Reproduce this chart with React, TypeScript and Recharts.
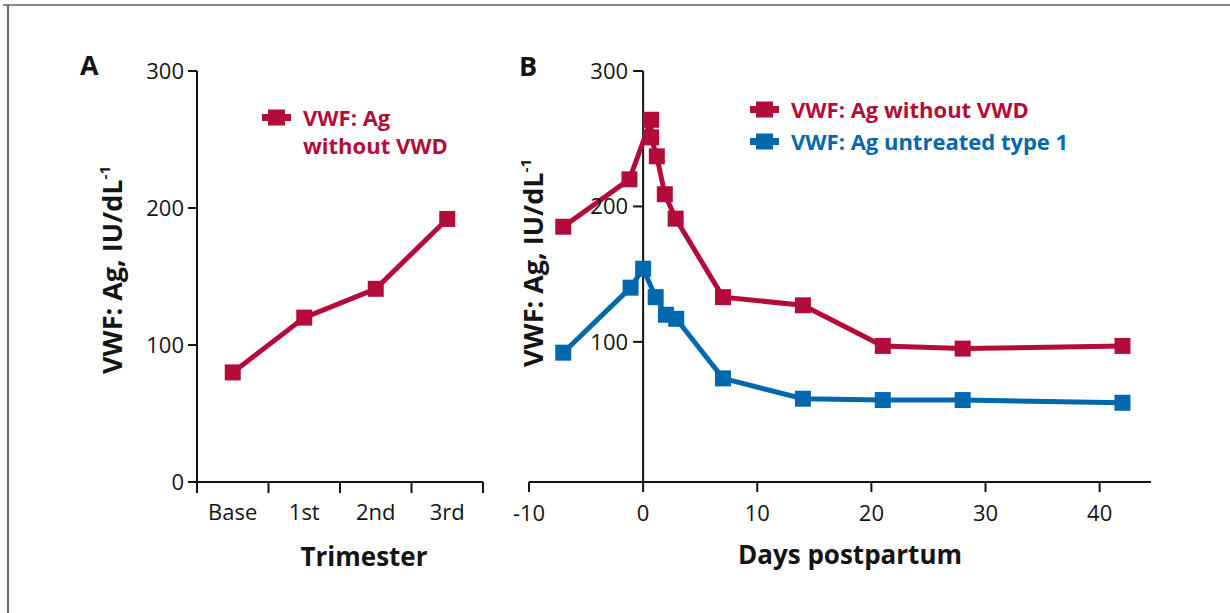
import { LineChart, Line, XAxis, YAxis, ReferenceLine, Label, Legend } from 'recharts';

const FONT = '"Open Sans", "Noto Sans", sans-serif';
const RED = '#B30C3A';
const BLUE = '#0068AD';
const INK = '#141414';

// panel A: trimesters
const trimesters = ['Base', '1st', '2nd', '3rd'];
const trimesterVwf = [80, 120, 141, 192];
const trimesterTicks = [0, 1, 2, 3, 4];
const vwfTicksA = [0, 100, 200, 300];

// panel B: days postpartum
const seriesNames = ['VWF: Ag without VWD', 'VWF: Ag untreated type 1'];
const daysWithoutVwd = [-7, -1.2, 0.7, 0.7, 1.2, 1.9, 2.85, 7, 14, 21, 28, 42];
const vwfWithoutVwd = [185, 220, 264, 251, 237, 209, 191, 133, 127, 97, 95, 97];
const daysType1 = [-7, -1.1, 0, 1.1, 2, 2.9, 7, 14, 21, 28, 42];
const vwfType1 = [92, 140, 154, 133, 120, 117, 73, 58, 57, 57, 55];
const dayTicks = [-10, 0, 10, 20, 30, 40];
const vwfTicksB = [100, 200, 300];

const dataA = trimesters.map((t, i) => ({ pos: i + 0.5, name: t, vwf: trimesterVwf[i] }));
const dataRed = daysWithoutVwd.map((d, i) => ({ day: d, vwf: vwfWithoutVwd[i] }));
const dataBlue = daysType1.map((d, i) => ({ day: d, vwf: vwfType1[i] }));

const A_W = 520;
const A_MARGIN = { top: 71, right: 37, bottom: 91, left: 137 };
const A_YW = 60;
const A_HALF_BAND = (A_W - A_MARGIN.left - A_MARGIN.right - A_YW) / trimesters.length / 2;

const B_W = 700;
const B_MARGIN = { top: 71, right: 49, bottom: 91, left: 28 };
const B_TICK_DAYS = 0.88;

const tickStyle = { fill: INK, fontSize: 22, fontFamily: FONT };

const squareDot = (color: string) => (props: any) => {
  const { cx, cy, index } = props;
  if (cx == null || cy == null) return <g key={`e-${index}`} />;
  return <rect key={`sq-${index}`} x={cx - 8} y={cy - 8} width={16} height={16} fill={color} />;
};

function TrimesterTick(props: any) {
  const { x, y, payload } = props;
  const label = trimesters[payload.value];
  if (!label) return <g />;
  return (
    <text x={x + A_HALF_BAND} y={y} dy="0.71em" textAnchor="middle" {...tickStyle}>
      {label}
    </text>
  );
}

function YTitle({ tx, ty }: { tx: number; ty: number }) {
  return (
    <text
      x={tx}
      y={ty}
      transform={`rotate(-90 ${tx} ${ty})`}
      textAnchor="middle"
      fontFamily={FONT}
      fontSize={27}
      fontWeight={700}
      fill={INK}
    >
      VWF: Ag, IU/dL<tspan fontSize={15} dy={-12}>-1</tspan>
    </text>
  );
}

const legendContent = (textWidth?: number) => (props: any) => {
  const items = [...(props.payload || [])].sort(
    (a: any, b: any) => seriesNames.indexOf(a.value) - seriesNames.indexOf(b.value)
  );
  return (
    <div style={{ display: 'flex', flexDirection: 'column', rowGap: 4 }}>
      {items.map((item: any) => (
        <div key={item.value} style={{ display: 'flex', alignItems: 'flex-start' }}>
          <svg width={29} height={28} style={{ flex: 'none' }}>
            <rect x={0} y={11} width={29} height={7} fill={item.color} />
            <rect x={6} y={6.5} width={17} height={16} fill={item.color} />
          </svg>
          <span
            style={{
              marginLeft: 12,
              width: textWidth,
              color: item.color,
              fontSize: 22,
              fontWeight: 700,
              lineHeight: '28px',
              fontFamily: FONT,
              whiteSpace: textWidth ? 'normal' : 'nowrap',
            }}
          >
            {item.value}
          </span>
        </div>
      ))}
    </div>
  );
};

const panelLetter = (left: number, top: number) => ({
  position: 'absolute' as const,
  left,
  top,
  fontFamily: FONT,
  fontWeight: 700,
  fontSize: 27,
  lineHeight: '27px',
  color: INK,
});

export default function App() {
  return (
    <div
      style={{
        position: 'absolute',
        left: 0,
        top: 0,
        width: 1230,
        height: 613,
        background: '#fff',
        overflow: 'hidden',
        fontFamily: FONT,
      }}
    >
      <div style={{ position: 'absolute', left: 3, top: 4, width: 1227, height: 2, background: '#8a8a8a' }} />
      <div style={{ position: 'absolute', left: 7, top: 5, width: 2, height: 608, background: '#666' }} />

      <div style={panelLetter(80, 51)}>A</div>
      <div style={panelLetter(519, 52)}>B</div>

      <div style={{ position: 'absolute', left: 0, top: 0 }}>
        <LineChart width={A_W} height={613} data={dataA} margin={A_MARGIN}>
          <XAxis
            dataKey="pos"
            type="number"
            domain={[0, 4]}
            ticks={trimesterTicks}
            interval={0}
            height={40}
            tick={<TrimesterTick />}
            tickSize={11}
            tickMargin={11}
            axisLine={{ stroke: INK, strokeWidth: 2 }}
            tickLine={{ stroke: INK, strokeWidth: 2 }}
          >
            <Label
              value="Trimester"
              position="bottom"
              offset={26}
              dx={24}
              style={{ fill: INK, fontSize: 26, fontWeight: 700, fontFamily: FONT }}
            />
          </XAxis>
          <YAxis
            domain={[0, 300]}
            ticks={vwfTicksA}
            width={A_YW}
            tick={tickStyle}
            tickSize={9}
            tickMargin={4}
            axisLine={{ stroke: INK, strokeWidth: 2 }}
            tickLine={{ stroke: INK, strokeWidth: 2 }}
          >
            <Label content={<YTitle tx={122} ty={270} />} />
          </YAxis>
          <Legend
            layout="horizontal"
            verticalAlign="middle"
            align="center"
            content={legendContent(165)}
            wrapperStyle={{ left: 262, top: 102.5, width: 'auto' }}
          />
          <Line
            name={seriesNames[0]}
            dataKey="vwf"
            stroke={RED}
            strokeWidth={5}
            dot={squareDot(RED)}
            activeDot={false}
            isAnimationActive={false}
          />
        </LineChart>
      </div>

      <div style={{ position: 'absolute', left: 500, top: 0 }}>
        <LineChart width={B_W} height={613} margin={B_MARGIN}>
          <XAxis
            dataKey="day"
            type="number"
            domain={[-10, 44.5]}
            ticks={dayTicks}
            interval={0}
            height={40}
            tick={tickStyle}
            tickSize={10}
            tickMargin={13}
            axisLine={{ stroke: INK, strokeWidth: 2 }}
            tickLine={{ stroke: INK, strokeWidth: 2 }}
          >
            <Label
              value="Days postpartum"
              position="bottom"
              offset={24}
              dx={10}
              style={{ fill: INK, fontSize: 26, fontWeight: 700, fontFamily: FONT }}
            />
          </XAxis>
          <YAxis domain={[-3.5, 300]} width={1} tick={false} axisLine={false} tickLine={false}>
            <Label content={<YTitle tx={43} ty={263} />} />
          </YAxis>
          <ReferenceLine x={0} stroke={INK} strokeWidth={2} />
          {vwfTicksB.map((v) => (
            <ReferenceLine
              key={v}
              segment={[
                { x: -B_TICK_DAYS, y: v },
                { x: 0, y: v },
              ]}
              stroke={INK}
              strokeWidth={2}
              label={{ value: v, position: 'left', offset: 5, ...tickStyle }}
            />
          ))}
          <Legend
            layout="horizontal"
            verticalAlign="middle"
            align="center"
            content={legendContent()}
            wrapperStyle={{ left: 250, top: 94.5, width: 'auto' }}
          />
          <Line
            name={seriesNames[0]}
            data={dataRed}
            dataKey="vwf"
            stroke={RED}
            strokeWidth={5}
            dot={squareDot(RED)}
            activeDot={false}
            isAnimationActive={false}
          />
          <Line
            name={seriesNames[1]}
            data={dataBlue}
            dataKey="vwf"
            stroke={BLUE}
            strokeWidth={5}
            dot={squareDot(BLUE)}
            activeDot={false}
            isAnimationActive={false}
          />
        </LineChart>
      </div>
    </div>
  );
}
